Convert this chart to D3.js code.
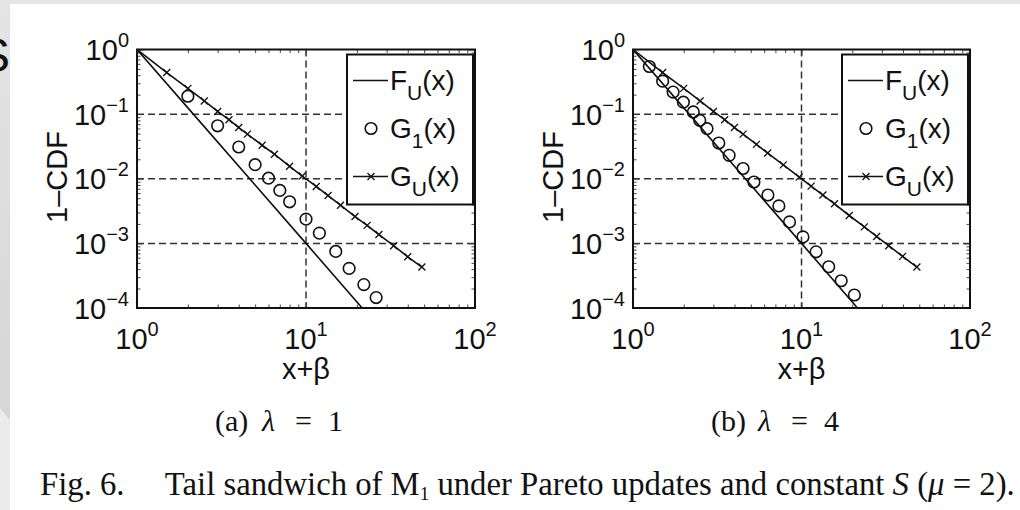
<!DOCTYPE html>
<html>
<head>
<meta charset="utf-8">
<script src="https://cdn.jsdelivr.net/npm/d3@7"></script>
<style>
  body { margin: 0; background: #fff; }
  svg { display: block; }
  .sans { font-family: 'Liberation Sans', Arial, sans-serif; }
  .serif { font-family: 'Liberation Serif', 'Times New Roman', serif; }
</style>
</head>
<body>
<div id="chart"></div>
<script>
// ---- data ----
const xMajor = [1, 10, 100]
const yMajor = [1e-4, 1e-3, 1e-2, 1e-1, 1]
const xMinor = [2, 3, 4, 5, 6, 7, 8, 9, 20, 30, 40, 50, 60, 70, 80, 90]
const yMinor = [2e-4, 3e-4, 4e-4, 5e-4, 6e-4, 7e-4, 8e-4, 9e-4,
  2e-3, 3e-3, 4e-3, 5e-3, 6e-3, 7e-3, 8e-3, 9e-3,
  0.02, 0.03, 0.04, 0.05, 0.06, 0.07, 0.08, 0.09,
  0.2, 0.3, 0.4, 0.5, 0.6, 0.7, 0.8, 0.9]
const legendNames = ['F', 'G', 'G']
const legendSubs = ['U', '1', 'U']

// panel (a), lambda = 1
const fuXa = [1, 2, 5, 10, 21.5]
const fuYa = [1, 0.125, 0.008, 0.001, 0.0001]
const g1Xa = [2, 3, 4, 5, 6, 7, 8, 10, 12, 15, 18, 22, 26]
const g1Ya = [0.189, 0.066, 0.031, 0.0165, 0.0102, 0.0066, 0.0044, 0.00237, 0.00144, 0.00075, 0.00041, 0.00023, 0.000145]
const guXa = [1, 1.5, 2, 2.5, 3, 3.5, 4, 4.5, 5.5, 6.5, 8, 9.5, 11.5, 13.5, 16, 19.5, 23, 27, 33, 40, 48.5]
const guYa = [1, 0.44, 0.25, 0.16, 0.11, 0.082, 0.062, 0.049, 0.033, 0.024, 0.0156, 0.011, 0.0076, 0.0055, 0.0039, 0.0026, 0.0019, 0.00137, 0.00092, 0.00062, 0.00043]

// panel (b), lambda = 4
const fuXb = [1, 2, 5, 10, 21.5]
const fuYb = [1, 0.125, 0.008, 0.001, 0.0001]
const g1Xb = [1.25, 1.5, 1.73, 1.99, 2.28, 2.49, 2.75, 3.23, 3.72, 4.5, 5.22, 6.32, 7.34, 8.49, 10.2, 12.2, 14.5, 17.2, 20.6]
const g1Yb = [0.546, 0.324, 0.219, 0.153, 0.108, 0.08, 0.0595, 0.0357, 0.023, 0.0144, 0.0089, 0.0056, 0.0038, 0.00215, 0.00126, 0.00074, 0.000435, 0.000264, 0.000159]
const guXb = [1, 1.5, 2, 2.5, 3, 3.5, 4, 4.5, 5.4, 6.3, 7.8, 9.7, 11.4, 13.4, 15.7, 19.2, 23.6, 27.9, 32.9, 39.8, 48.4]
const guYb = [1, 0.44, 0.25, 0.16, 0.11, 0.082, 0.062, 0.049, 0.034, 0.025, 0.0164, 0.0106, 0.0077, 0.0056, 0.0041, 0.0027, 0.0018, 0.00128, 0.00092, 0.00063, 0.00043]

const width = 1020
const height = 510

const svg = d3
  .select('#chart')
  .append('svg')
  .attr('width', width)
  .attr('height', height)

// viewer background (grey margins around the page)
const defs = svg.append('defs')
const grad = defs.append('linearGradient').attr('id', 'side').attr('x1', 0).attr('y1', 0).attr('x2', 0).attr('y2', 1)
grad.append('stop').attr('offset', '0%').attr('stop-color', '#e4e4e4')
grad.append('stop').attr('offset', '100%').attr('stop-color', '#d6d6d6')

svg.append('rect').attr('width', width).attr('height', height).attr('fill', '#fff')
svg.append('rect').attr('width', width).attr('height', 4).attr('fill', '#e6e6e6')
svg.append('rect').attr('x', 0).attr('y', 0).attr('width', 10).attr('height', height).attr('fill', '#ebebeb')
svg.append('path').attr('d', 'M0,0 H10 V420 L0,408 Z').attr('fill', 'url(#side)')
svg
  .append('text')
  .attr('class', 'sans')
  .attr('x', -22)
  .attr('y', 72)
  .attr('font-size', 48)
  .attr('fill', '#111')
  .text('S')

function zip(xs, ys) {
  return xs.map((x, i) => ({ x: x, y: ys[i] }))
}

function superLabel(sel, exp, supSize) {
  sel.text(null)
  sel.append('tspan').text('10')
  sel
    .append('tspan')
    .attr('font-size', supSize)
    .attr('dy', -13)
    .text(exp < 0 ? '\u2212' + -exp : exp)
}

function drawPanel(p) {
  const xPositionScale = d3.scaleLog().domain([1, 100]).range([p.left, p.right])
  const yPositionScale = d3.scaleLog().domain([1e-4, 1]).range([p.bottom, p.top])
  const g = svg.append('g')
  const clipId = 'clip-' + p.id

  defs
    .append('clipPath')
    .attr('id', clipId)
    .append('rect')
    .attr('x', p.left)
    .attr('y', p.top)
    .attr('width', p.right - p.left)
    .attr('height', p.bottom - p.top)

  // dashed grid at inner major ticks
  g.selectAll('.gx')
    .data(xMajor.slice(1, -1))
    .enter()
    .append('line')
    .attr('x1', d => xPositionScale(d))
    .attr('x2', d => xPositionScale(d))
    .attr('y1', p.top)
    .attr('y2', p.bottom)
    .attr('stroke', '#333')
    .attr('stroke-width', 1.5)
    .attr('stroke-dasharray', '7,4')
  g.selectAll('.gy')
    .data(yMajor.slice(1, -1))
    .enter()
    .append('line')
    .attr('y1', d => yPositionScale(d))
    .attr('y2', d => yPositionScale(d))
    .attr('x1', p.left)
    .attr('x2', p.right)
    .attr('stroke', '#333')
    .attr('stroke-width', 1.5)
    .attr('stroke-dasharray', '7,4')

  // tick marks on all four sides, pointing in
  const sides = [
    { axis: d3.axisBottom, scale: xPositionScale, t: 'translate(0,' + p.bottom + ')', major: xMajor, minor: xMinor },
    { axis: d3.axisTop, scale: xPositionScale, t: 'translate(0,' + p.top + ')', major: xMajor, minor: xMinor },
    { axis: d3.axisLeft, scale: yPositionScale, t: 'translate(' + p.left + ',0)', major: yMajor, minor: yMinor },
    { axis: d3.axisRight, scale: yPositionScale, t: 'translate(' + p.right + ',0)', major: yMajor, minor: yMinor }
  ]
  sides.forEach(s => {
    ;[[s.major, -6], [s.minor, -3.5]].forEach(([vals, size]) => {
      const ax = g
        .append('g')
        .attr('transform', s.t)
        .call(s.axis(s.scale).tickValues(vals).tickSize(size).tickSizeOuter(0).tickFormat(''))
      ax.select('.domain').remove()
      ax.selectAll('line').attr('stroke', '#444').attr('stroke-width', 1)
    })
  })

  // lines and markers
  const line = d3
    .line()
    .x(d => xPositionScale(d.x))
    .y(d => yPositionScale(d.y))
  const data = g.append('g').attr('clip-path', 'url(#' + clipId + ')')

  data
    .append('path')
    .datum(zip(p.fuX, p.fuY))
    .attr('d', line)
    .attr('fill', 'none')
    .attr('stroke', '#111')
    .attr('stroke-width', 1.6)

  const gu = zip(p.guX, p.guY)
  data
    .append('path')
    .datum(gu)
    .attr('d', line)
    .attr('fill', 'none')
    .attr('stroke', '#111')
    .attr('stroke-width', 1.6)
  data
    .selectAll('.xmark')
    .data(gu.filter(d => d.x > 1))
    .enter()
    .append('path')
    .attr('d', 'M-3.5,-3.5L3.5,3.5M-3.5,3.5L3.5,-3.5')
    .attr('transform', d => 'translate(' + xPositionScale(d.x) + ',' + yPositionScale(d.y) + ')')
    .attr('stroke', '#111')
    .attr('stroke-width', 1.3)

  data
    .selectAll('.circ')
    .data(zip(p.g1X, p.g1Y))
    .enter()
    .append('circle')
    .attr('cx', d => xPositionScale(d.x))
    .attr('cy', d => yPositionScale(d.y))
    .attr('r', 5.8)
    .attr('fill', 'none')
    .attr('stroke', '#111')
    .attr('stroke-width', 1.6)

  // frame
  g.append('rect')
    .attr('x', p.left)
    .attr('y', p.top)
    .attr('width', p.right - p.left)
    .attr('height', p.bottom - p.top)
    .attr('fill', 'none')
    .attr('stroke', '#111')
    .attr('stroke-width', 2)

  // tick labels
  g.selectAll('.xl')
    .data(xMajor)
    .enter()
    .append('text')
    .attr('class', 'sans')
    .attr('x', d => xPositionScale(d))
    .attr('y', p.bottom + 41)
    .attr('text-anchor', 'middle')
    .attr('font-size', 29)
    .attr('fill', '#111')
    .each(function(d) {
      superLabel(d3.select(this), Math.round(Math.log10(d)), 20)
    })
  g.selectAll('.yl')
    .data(yMajor)
    .enter()
    .append('text')
    .attr('class', 'sans')
    .attr('x', p.left - 8)
    .attr('y', d => yPositionScale(d) + 10.5)
    .attr('text-anchor', 'end')
    .attr('font-size', 29)
    .attr('fill', '#111')
    .each(function(d) {
      superLabel(d3.select(this), Math.round(Math.log10(d)), 20)
    })

  // axis titles
  g.append('text')
    .attr('class', 'sans')
    .attr('x', (p.left + p.right) / 2)
    .attr('y', p.bottom + 71)
    .attr('text-anchor', 'middle')
    .attr('font-size', 29)
    .attr('fill', '#111')
    .text('x+\u03b2')
  g.append('text')
    .attr('class', 'sans')
    .attr('transform', 'translate(' + (p.left - 70) + ',' + 177 + ') rotate(-90)')
    .attr('text-anchor', 'middle')
    .attr('font-size', 29)
    .attr('fill', '#111')
    .text('1\u2013CDF')

  // legend
  const lx = p.right - 128
  const ly = p.top + 5
  g.append('rect')
    .attr('x', lx)
    .attr('y', ly)
    .attr('width', 126)
    .attr('height', 150)
    .attr('fill', '#fff')
    .attr('stroke', '#111')
    .attr('stroke-width', 2)
  const rows = [0, 1, 2]
  rows.forEach(i => {
    const cy = ly + 26 + i * 48
    if (i !== 1) {
      g.append('line')
        .attr('x1', lx + 6)
        .attr('x2', lx + 41)
        .attr('y1', cy)
        .attr('y2', cy)
        .attr('stroke', '#111')
        .attr('stroke-width', 1.6)
    }
    if (i === 1) {
      g.append('circle')
        .attr('cx', lx + 24)
        .attr('cy', cy)
        .attr('r', 5.8)
        .attr('fill', 'none')
        .attr('stroke', '#111')
        .attr('stroke-width', 1.6)
    }
    if (i === 2) {
      g.append('path')
        .attr('d', 'M-3.5,-3.5L3.5,3.5M-3.5,3.5L3.5,-3.5')
        .attr('transform', 'translate(' + (lx + 24) + ',' + cy + ')')
        .attr('stroke', '#111')
        .attr('stroke-width', 1.3)
    }
    const t = g
      .append('text')
      .attr('class', 'sans')
      .attr('x', lx + 43)
      .attr('y', cy + 9)
      .attr('font-size', 28)
      .attr('fill', '#111')
    t.append('tspan').text(legendNames[i])
    t.append('tspan').attr('font-size', 21).attr('dy', 10).text(legendSubs[i])
    t.append('tspan').attr('dy', -10).text('(x)')
  })

  // sub caption, spaced like the typeset math
  const cl = p.left + 78
  const cap = svg
    .append('text')
    .attr('class', 'serif')
    .attr('y', 431)
    .attr('font-size', 30)
    .attr('fill', '#111')
  cap.append('tspan').attr('x', cl).text('(' + p.id + ')')
  cap.append('tspan').attr('x', cl + 47).attr('font-style', 'italic').text('\u03bb')
  cap.append('tspan').attr('x', cl + 80).text('=')
  cap.append('tspan').attr('x', cl + 113).text(p.lambda)
}

drawPanel({ id: 'a', lambda: 1, left: 137, right: 475, top: 49.5, bottom: 308,
  fuX: fuXa, fuY: fuYa, g1X: g1Xa, g1Y: g1Ya, guX: guXa, guY: guYa })
drawPanel({ id: 'b', lambda: 4, left: 633, right: 970, top: 49.5, bottom: 308,
  fuX: fuXb, fuY: fuYb, g1X: g1Xb, g1Y: g1Yb, guX: guXb, guY: guYb })

// figure caption
const fig = svg
  .append('text')
  .attr('class', 'serif')
  .attr('x', 40)
  .attr('y', 495)
  .attr('font-size', 27)
  .attr('fill', '#111')
fig.append('tspan').text('Fig. 6.\u2003 Tail sandwich of M')
fig.append('tspan').attr('font-size', 19).attr('dy', 5).text('1')
fig.append('tspan').attr('dy', -5).text(' under Pareto updates and constant ')
fig.append('tspan').attr('font-style', 'italic').text('S')
fig.append('tspan').text(' (')
fig.append('tspan').attr('font-style', 'italic').text('\u03bc')
fig.append('tspan').text(' = 2).')
const figWidth = fig.node().getComputedTextLength()
fig.attr('font-size', 27 * 977 / figWidth)
</script>
</body>
</html>
